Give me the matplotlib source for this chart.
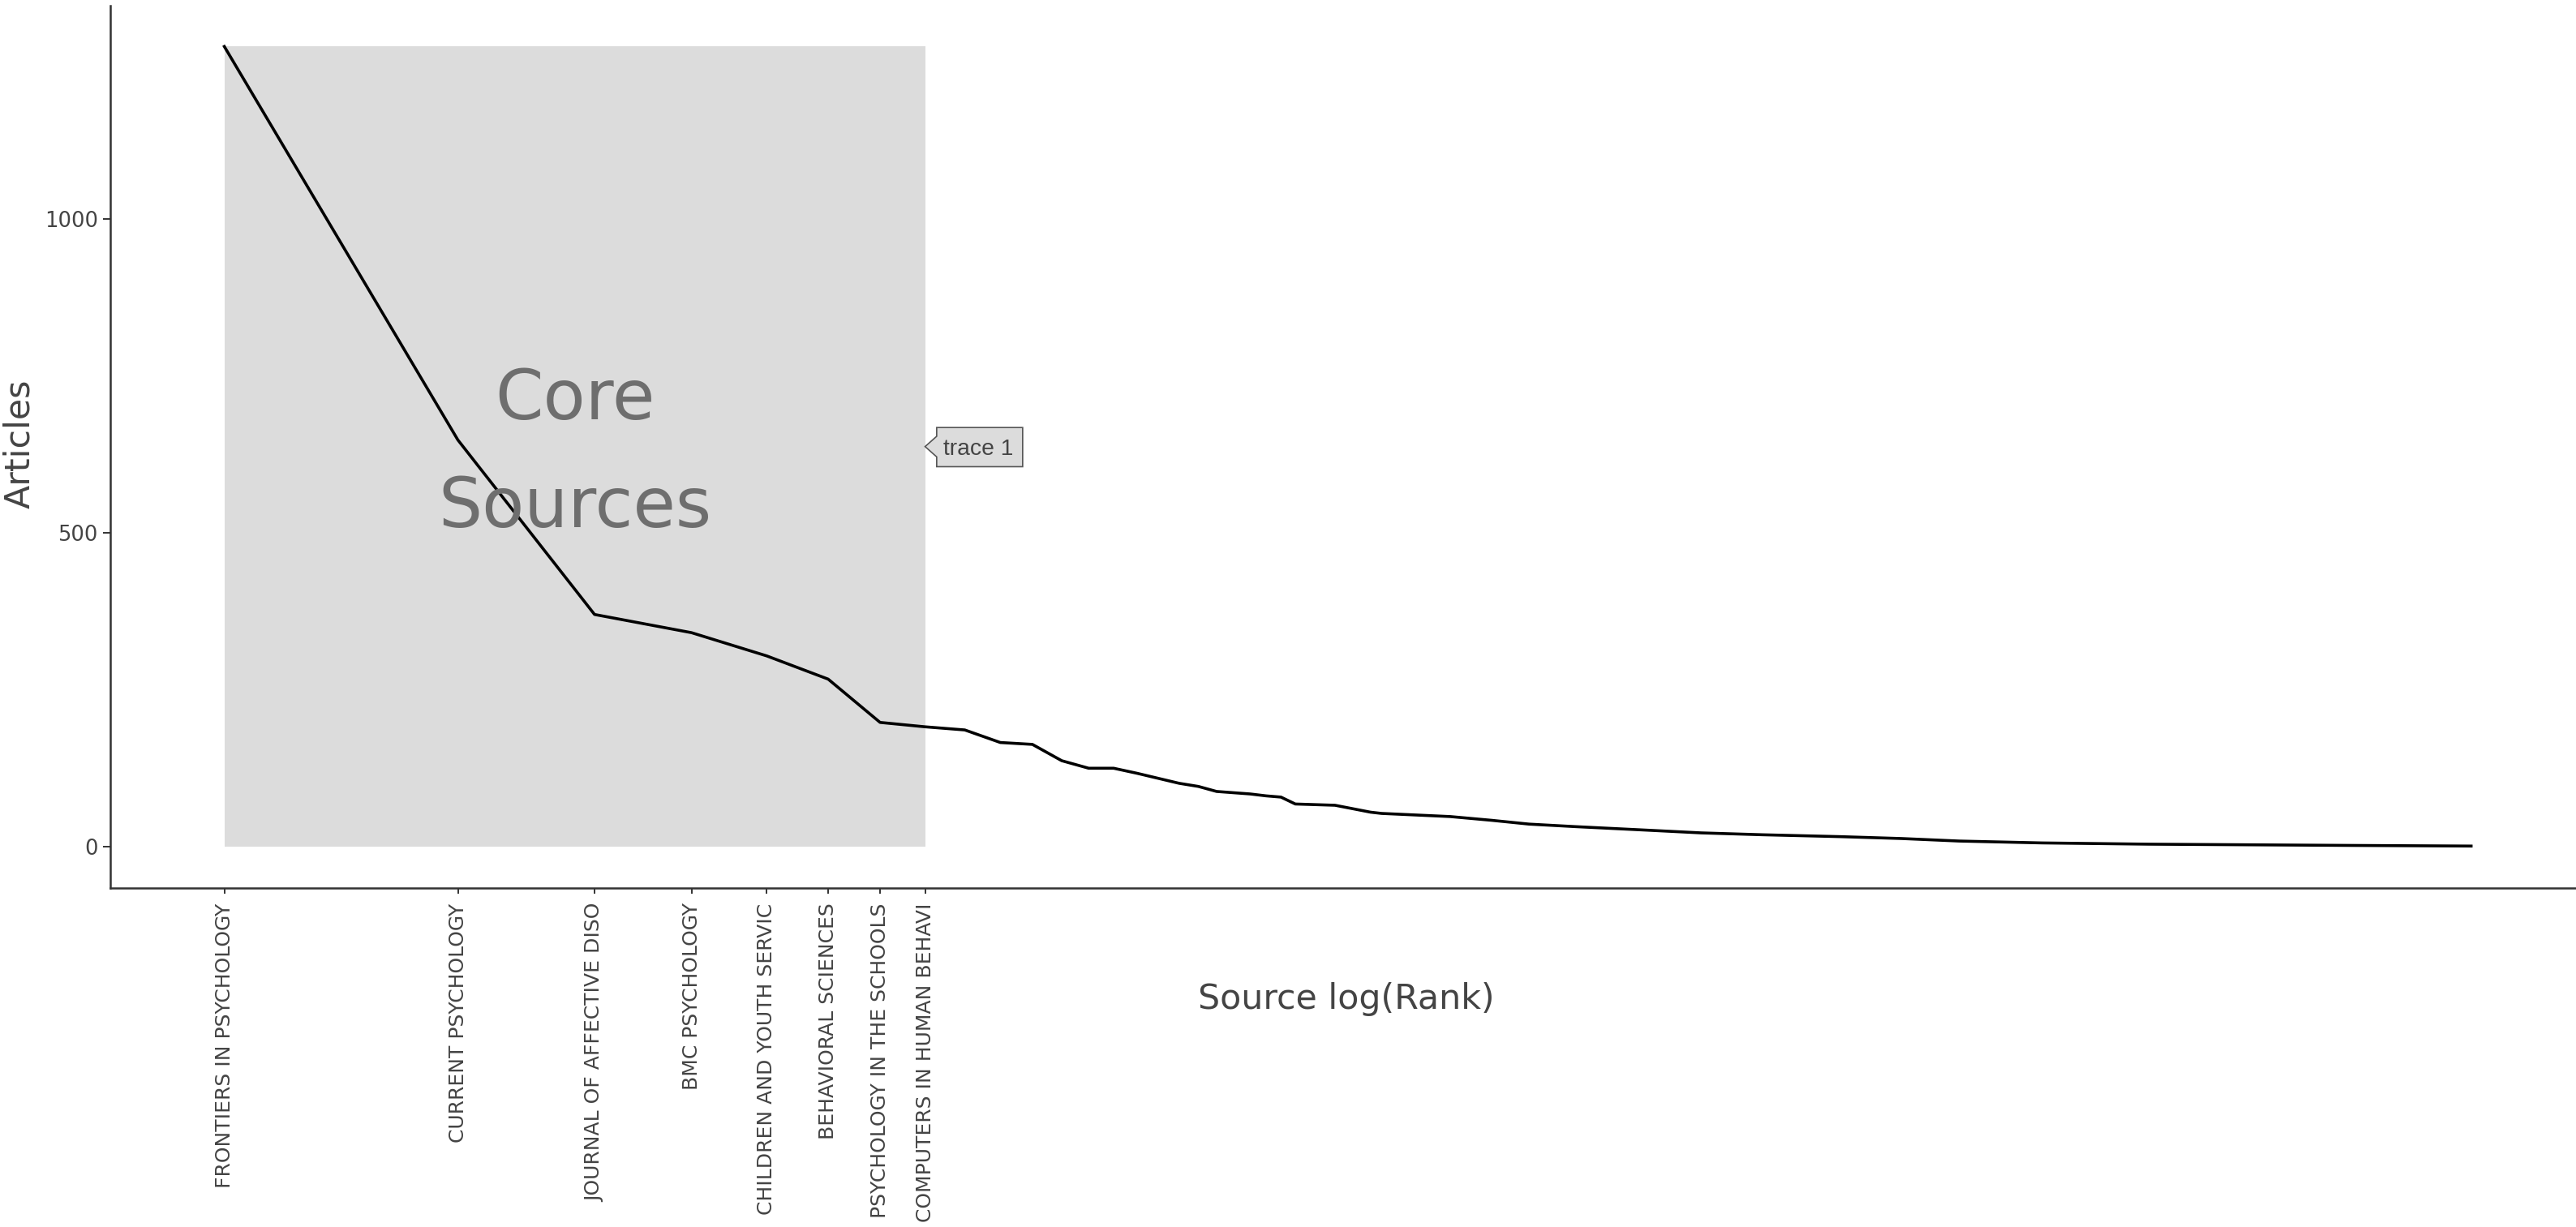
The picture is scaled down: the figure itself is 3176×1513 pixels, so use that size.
import numpy as np
import matplotlib
matplotlib.use("Agg")
import matplotlib.pyplot as plt
from matplotlib.patches import Rectangle, Polygon
from matplotlib.ticker import NullLocator, FixedLocator, FixedFormatter

# ---------------- data ----------------
core_sources = [
    "FRONTIERS IN PSYCHOLOGY",
    "CURRENT PSYCHOLOGY",
    "JOURNAL OF AFFECTIVE DISO",
    "BMC PSYCHOLOGY",
    "CHILDREN AND YOUTH SERVIC",
    "BEHAVIORAL SCIENCES",
    "PSYCHOLOGY IN THE SCHOOLS",
    "COMPUTERS IN HUMAN BEHAVI",
]
ranks = [1, 2, 3, 4, 5, 6, 7, 8, 9, 10, 11, 12, 13, 14, 15, 17, 18, 19, 21, 22,
         23, 24, 27, 30, 31, 38, 43, 48, 55, 69, 80, 96, 121, 145, 172, 220, 302,
         552, 786]
articles = [1275, 648, 370, 341, 304, 267, 198, 191, 186, 166, 163, 137, 125, 125,
            117, 101, 96, 88, 84, 81, 79, 68, 66, 55, 53, 48, 42, 36, 32, 26, 22,
            19, 16, 13, 9, 6, 4, 2, 1]
y_ticks = [0, 500, 1000]
n_core = len(core_sources)

# ---------------- figure ----------------
W, H, DPI = 3176, 1513, 200
fig = plt.figure(figsize=(W / DPI, H / DPI), dpi=DPI)
fig.patch.set_facecolor("white")

left_px, right_px, top_px, bottom_px = 136, 3176, 7, 1094.5
ax = fig.add_axes([left_px / W, 1 - bottom_px / H,
                   (right_px - left_px) / W, (bottom_px - top_px) / H])
ax.set_facecolor("white")

ax.set_xscale("log")
ax.set_xlim(0.713, 1073)
ax.set_ylim(-65.2, 1340)

# core sources shaded area
ax.add_patch(Rectangle((ranks[0], 0), ranks[n_core - 1] - ranks[0], articles[0],
                       facecolor="#dcdcdc", edgecolor="none", zorder=1))

# main curve
ax.plot(ranks, articles, color="black", lw=1.3, zorder=3, solid_joinstyle="round")

# "Core Sources" annotation
cx = np.sqrt(ranks[n_core - 1])
cy = articles[0] / 2
ax.annotate("Core", xy=(cx, cy), xycoords="data", xytext=(0, 33.7),
            textcoords="offset pixels", ha="center", va="baseline",
            fontsize=30.7, color="#6e6e6e", zorder=4)
ax.annotate("Sources", xy=(cx, cy), xycoords="data", xytext=(0, -99.8),
            textcoords="offset pixels", ha="center", va="baseline",
            fontsize=30.7, color="#6e6e6e", zorder=4)

# spines / ticks
for s in ["top", "right"]:
    ax.spines[s].set_visible(False)
for s in ["left", "bottom"]:
    ax.spines[s].set_color("#333333")
    ax.spines[s].set_linewidth(0.9)

ax.xaxis.set_major_locator(FixedLocator(ranks[:n_core]))
ax.xaxis.set_major_formatter(FixedFormatter(core_sources))
ax.xaxis.set_minor_locator(NullLocator())
ax.set_yticks(y_ticks)
ax.set_yticklabels([str(v) for v in y_ticks])

ax.tick_params(axis="x", length=2.5, width=0.7, color="#333333", pad=4.3,
               labelsize=9.0, labelcolor="#444444", labelrotation=90)
ax.tick_params(axis="y", length=3.2, width=0.7, color="#333333", pad=2.3,
               labelsize=9.3, labelcolor="#444444")

ax.set_xlabel("Source log(Rank)", fontsize=15.4, color="#444444")
ax.set_ylabel("Articles", fontsize=15.4, color="#444444")
ax.xaxis.set_label_coords((1660 - left_px) / (right_px - left_px),
                          (bottom_px - 1232) / (bottom_px - top_px))
ax.xaxis.label.set_va("center")
ax.yaxis.set_label_coords((24 - left_px) / (right_px - left_px),
                          (bottom_px - 547) / (bottom_px - top_px))
ax.yaxis.label.set_va("center")

# "trace 1" hover-style label pointing at the core zone edge
anchor = ax.transData.transform((ranks[n_core - 1], articles[0] / 2))
offs = np.array([(0, 0), (14.3, 12.7), (14.3, 23.5), (120.3, 23.5),
                 (120.3, -24.8), (14.3, -24.8), (14.3, -12.7)])
verts_fig = fig.transFigure.inverted().transform(anchor + offs)
ax.add_patch(Polygon(verts_fig, closed=True, transform=fig.transFigure,
                     facecolor="#dcdcdc", edgecolor="#555555", lw=0.6,
                     zorder=10, clip_on=False))
ax.annotate("trace 1", xy=(ranks[n_core - 1], articles[0] / 2), xycoords="data",
            xytext=(22.2, -10.5), textcoords="offset pixels", ha="left",
            va="baseline", fontsize=10.2, color="#444444",
            family=["Liberation Sans", "DejaVu Sans"], zorder=11,
            annotation_clip=False)

fig.savefig("out.png", dpi=DPI, facecolor="white")
